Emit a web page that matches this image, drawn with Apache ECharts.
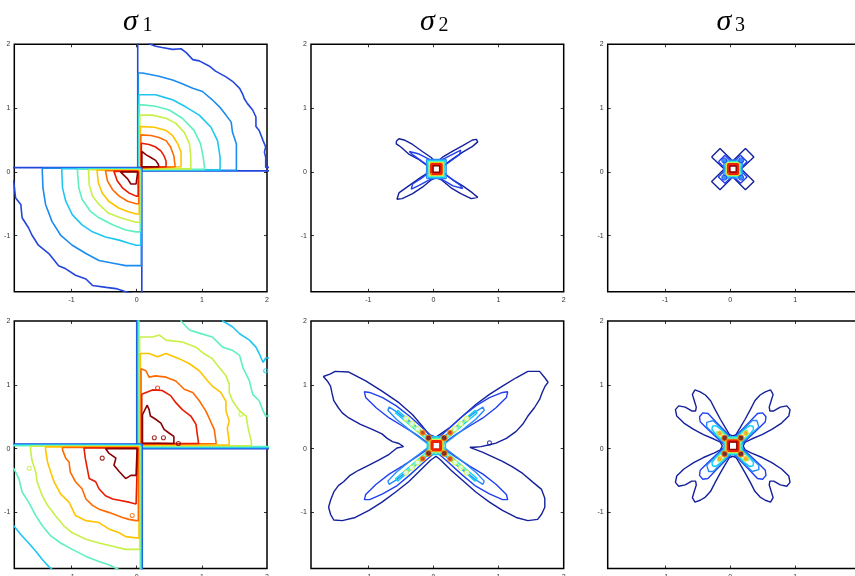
<!DOCTYPE html>
<html><head><meta charset="utf-8">
<script src="https://cdn.jsdelivr.net/npm/echarts@6/dist/echarts.min.js"></script>
<style>html,body{margin:0;padding:0;background:#fff}#c{width:855px;height:576px}</style>
</head><body><div id="c"></div>
<script>
// ---------------- axes / titles ----------------
const axisMin = -1.88, axisMax = 2;
const xTickLabels = [-1, 0, 1, 2];
const yTickLabels = [-1, 0, 1, 2];
const tickMarks = [-1, 0, 1];
const titleSymbol = ['σ', 'σ', 'σ'];
const titleSub = ['1', '2', '3'];

// ---------------- sigma_1 (quadrant contours, low level -> high level) ----------------
// where each level runs along the separating lines (top panel / bottom panel)
const q1EdgeTop  = [0.015, 0.023, 0.031, 0.039, 0.047, 0.055, 0.063, 0.071, 0.078];
const q3EdgeXTop = [0.078, 0.070, 0.062, 0.054, 0.046, 0.038, 0.030, 0.022, 0.015];
const q3EdgeYTop = [0.066, 0.058, 0.050, 0.041, 0.033, 0.025, 0.017, 0.008, 0.000];
const q1EdgeBot  = [0.000, 0.011, 0.022, 0.033, 0.044, 0.055, 0.066, 0.077, 0.088];
const q3EdgeXBot = [0.085, 0.075, 0.065, 0.055, 0.045, 0.035, 0.025, 0.015, 0.005];
const q3EdgeYBot = [0.072, 0.063, 0.054, 0.045, 0.036, 0.027, 0.018, 0.009, 0.000];

const s1TopQ1 = [
 [[0.19,2.3],[0.19,2.01],[0.29,1.97],[0.39,1.95],[0.55,1.92],[0.68,1.93],[0.76,1.87],[0.86,1.76],[0.96,1.74],[1.11,1.66],[1.21,1.58],[1.37,1.49],[1.47,1.42],[1.58,1.31],[1.63,1.21],[1.65,1.15],[1.70,1.07],[1.78,0.97],[1.83,0.86],[1.83,0.71],[1.88,0.65],[1.94,0.49],[1.98,0.39],[1.96,0.31],[1.98,0.23],[1.98,0.07],[2.3,0.07]],
 [[0.09,1.55],[0.34,1.50],[0.55,1.44],[0.68,1.39],[0.86,1.31],[1.01,1.26],[1.16,1.13],[1.27,1.02],[1.37,0.89],[1.45,0.78],[1.47,0.62],[1.53,0.44],[1.53,0.23],[1.53,0.08]],
 [[0.09,1.21],[0.29,1.21],[0.45,1.16],[0.55,1.13],[0.75,1.02],[0.96,0.89],[1.14,0.70],[1.24,0.49],[1.28,0.23],[1.28,0.08]],
 [[0.09,1.05],[0.29,1.03],[0.50,0.97],[0.70,0.84],[0.88,0.65],[0.98,0.44],[1.02,0.23],[1.04,0.08]],
 [[0.09,0.89],[0.24,0.89],[0.45,0.84],[0.60,0.76],[0.73,0.62],[0.81,0.44],[0.83,0.23],[0.83,0.08]],
 [[0.09,0.71],[0.27,0.70],[0.45,0.65],[0.55,0.57],[0.63,0.44],[0.68,0.31],[0.68,0.08]],
 [[0.09,0.58],[0.22,0.57],[0.34,0.54],[0.45,0.49],[0.52,0.39],[0.57,0.25],[0.59,0.08]],
 [[0.09,0.45],[0.19,0.43],[0.29,0.39],[0.37,0.33],[0.42,0.25],[0.45,0.17],[0.45,0.08]],
 [[0.09,0.32],[0.14,0.27],[0.21,0.23],[0.29,0.18],[0.33,0.12],[0.34,0.08]]
];
const s1TopQ3 = [
 [[-2.3,-0.14],[-1.89,-0.14],[-1.86,-0.41],[-1.78,-0.51],[-1.76,-0.72],[-1.66,-0.88],[-1.61,-0.99],[-1.51,-1.15],[-1.35,-1.28],[-1.20,-1.47],[-1.09,-1.52],[-0.94,-1.62],[-0.78,-1.68],[-0.68,-1.78],[-0.47,-1.81],[-0.32,-1.83],[-0.17,-1.88],[-0.01,-1.92],[-0.01,-2.3]],
 [[-1.45,0],[-1.44,-0.25],[-1.40,-0.51],[-1.30,-0.78],[-1.17,-0.99],[-0.99,-1.15],[-0.78,-1.28],[-0.58,-1.39],[-0.32,-1.44],[-0.17,-1.47],[-0.01,-1.47]],
 [[-1.15,0],[-1.14,-0.25],[-1.09,-0.46],[-0.99,-0.67],[-0.84,-0.83],[-0.68,-0.94],[-0.48,-1.02],[-0.27,-1.07],[-0.12,-1.12],[-0.01,-1.15]],
 [[-0.91,0],[-0.89,-0.25],[-0.84,-0.43],[-0.71,-0.62],[-0.58,-0.72],[-0.37,-0.83],[-0.17,-0.91],[-0.01,-0.94]],
 [[-0.74,0],[-0.73,-0.20],[-0.68,-0.38],[-0.58,-0.51],[-0.43,-0.65],[-0.25,-0.72],[-0.01,-0.79]],
 [[-0.61,0],[-0.59,-0.17],[-0.53,-0.33],[-0.43,-0.46],[-0.27,-0.57],[-0.14,-0.62],[-0.01,-0.66]],
 [[-0.48,0],[-0.45,-0.14],[-0.37,-0.28],[-0.27,-0.38],[-0.14,-0.46],[-0.01,-0.50]],
 [[-0.35,0],[-0.30,-0.14],[-0.22,-0.25],[-0.12,-0.33],[-0.01,-0.38]],
 [[-0.25,-0.01],[-0.14,-0.11],[-0.09,-0.19],[-0.01,-0.19]]
];
const s1BotQ1 = [
 [[0.1,2.3],[2.3,2.3],[2.3,0.1]],
 [[0.1,2.3],[2.3,2.3],[2.3,0.1]],
 [[0.1,2.3],[1.32,2.3],[1.32,2.0],[1.47,1.91],[1.58,1.80],[1.73,1.70],[1.83,1.59],[1.88,1.49],[1.94,1.35],[1.98,1.42],[2.3,1.42],[2.3,0.1]],
 [[0.1,2.3],[0.68,2.3],[0.68,2.0],[0.81,1.86],[0.96,1.81],[1.16,1.75],[1.32,1.59],[1.47,1.54],[1.58,1.46],[1.63,1.27],[1.73,1.06],[1.78,0.85],[1.88,0.75],[1.94,0.59],[1.98,0.51],[2.3,0.51],[2.3,0.1]],
 [[0.09,1.75],[0.24,1.75],[0.35,1.78],[0.45,1.70],[0.70,1.67],[0.91,1.59],[1.03,1.49],[1.16,1.41],[1.26,1.28],[1.37,1.14],[1.42,1.01],[1.42,0.88],[1.47,0.75],[1.58,0.59],[1.68,0.51],[1.71,0.32],[1.76,0.11]],
 [[0.09,1.49],[0.19,1.49],[0.32,1.44],[0.45,1.49],[0.65,1.41],[0.81,1.33],[0.96,1.22],[1.09,1.06],[1.16,0.98],[1.29,0.88],[1.37,0.74],[1.37,0.59],[1.42,0.43],[1.39,0.32],[1.42,0.11]],
 [[0.09,1.25],[0.14,1.22],[0.19,1.12],[0.29,1.14],[0.45,1.12],[0.60,1.06],[0.73,0.93],[0.86,0.88],[0.96,0.75],[1.06,0.59],[1.11,0.48],[1.19,0.30],[1.22,0.08]],
 [[0.09,0.85],[0.24,0.92],[0.39,0.91],[0.52,0.83],[0.60,0.72],[0.70,0.61],[0.83,0.51],[0.91,0.38],[0.93,0.22],[0.95,0.08]],
 [[0.10,0.53],[0.16,0.68],[0.19,0.61],[0.21,0.51],[0.29,0.46],[0.37,0.40],[0.42,0.30],[0.50,0.24],[0.57,0.19],[0.57,0.08]]
];
const s1BotQ3 = [
 [[-2.3,-0.1],[-2.3,-2.3],[-0.1,-2.3]],
 [[-2.3,-0.1],[-2.3,-2.3],[-0.1,-2.3]],
 [[-2.3,-0.1],[-2.3,-1.21],[-1.89,-1.21],[-1.76,-1.37],[-1.66,-1.48],[-1.55,-1.61],[-1.45,-1.74],[-1.35,-1.85],[-1.27,-1.92],[-1.27,-2.3],[-0.1,-2.3]],
 [[-2.3,-0.1],[-2.3,-0.31],[-1.89,-0.31],[-1.81,-0.47],[-1.76,-0.68],[-1.66,-0.84],[-1.55,-1.05],[-1.45,-1.21],[-1.32,-1.37],[-1.17,-1.48],[-0.99,-1.58],[-0.78,-1.69],[-0.58,-1.77],[-0.43,-1.82],[-0.27,-1.90],[-0.17,-1.92],[-0.17,-2.3],[-0.1,-2.3]],
 [[-1.63,-0.02],[-1.61,-0.18],[-1.55,-0.37],[-1.53,-0.52],[-1.45,-0.74],[-1.37,-0.89],[-1.25,-1.05],[-1.12,-1.21],[-0.99,-1.32],[-0.78,-1.42],[-0.58,-1.48],[-0.37,-1.53],[-0.17,-1.58],[-0.01,-1.58]],
 [[-1.40,-0.02],[-1.37,-0.21],[-1.32,-0.37],[-1.27,-0.52],[-1.17,-0.71],[-1.04,-0.84],[-0.94,-1.05],[-0.78,-1.13],[-0.58,-1.16],[-0.43,-1.26],[-0.27,-1.32],[-0.17,-1.38],[-0.01,-1.40]],
 [[-1.14,-0.02],[-1.09,-0.15],[-1.04,-0.21],[-1.02,-0.37],[-0.94,-0.52],[-0.84,-0.63],[-0.78,-0.79],[-0.68,-0.89],[-0.58,-0.95],[-0.43,-1.00],[-0.22,-1.08],[-0.12,-1.11],[-0.01,-1.13]],
 [[-0.81,0],[-0.79,-0.15],[-0.76,-0.31],[-0.73,-0.47],[-0.63,-0.52],[-0.58,-0.63],[-0.48,-0.74],[-0.37,-0.79],[-0.27,-0.81],[-0.12,-0.84],[-0.01,-0.87]],
 [[-0.48,0.0],[-0.43,-0.07],[-0.32,-0.15],[-0.35,-0.26],[-0.27,-0.36],[-0.17,-0.47],[-0.09,-0.42],[-0.01,-0.42]]
];
const s1BotSpecks = [[-0.53,-0.15,8],[0.32,0.95,7],[-0.07,-1.05,6],[-1.65,-0.31,4],[1.60,0.54,4],[0.27,0.17,8],[0.41,0.17,8],[0.64,0.08,8],[1.98,1.22,2]];

// ---------------- sigma_2 / sigma_3 ----------------
const coreCenter = [0.045, 0.045];

const s2TopOuter = [[-0.57,0.48],[-0.53,0.52],[-0.45,0.50],[-0.32,0.43],[-0.17,0.32],[-0.04,0.23],[0.02,0.17],[0.07,0.17],[0.14,0.23],[0.29,0.32],[0.45,0.41],[0.60,0.50],[0.66,0.51],[0.68,0.47],[0.60,0.40],[0.45,0.31],[0.29,0.20],[0.17,0.11],[0.15,0.04],[0.17,-0.03],[0.29,-0.12],[0.45,-0.22],[0.60,-0.33],[0.68,-0.40],[0.65,-0.43],[0.58,-0.42],[0.42,-0.34],[0.27,-0.25],[0.13,-0.13],[0.07,-0.10],[0.02,-0.10],[-0.04,-0.13],[-0.17,-0.24],[-0.32,-0.34],[-0.48,-0.42],[-0.56,-0.43],[-0.58,-0.40],[-0.53,-0.33],[-0.38,-0.22],[-0.20,-0.09],[-0.11,-0.03],[-0.09,0.04],[-0.11,0.11],[-0.22,0.19],[-0.38,0.28],[-0.50,0.39],[-0.57,0.44],[-0.57,0.48]];
const s2TopInner = [[0.04,0.14],[0.15,0.20],[0.30,0.28],[0.42,0.34],[0.45,0.32],[0.40,0.27],[0.25,0.16],[0.14,0.08],[0.12,0.04],[0.14,0.0],[0.25,-0.09],[0.40,-0.20],[0.45,-0.26],[0.42,-0.28],[0.30,-0.22],[0.15,-0.13],[0.04,-0.07],[-0.07,-0.13],[-0.22,-0.21],[-0.34,-0.27],[-0.37,-0.24],[-0.32,-0.19],[-0.17,-0.09],[-0.06,0.0],[-0.04,0.04],[-0.06,0.08],[-0.17,0.16],[-0.32,0.27],[-0.37,0.32],[-0.34,0.34],[-0.22,0.28],[-0.07,0.20],[0.04,0.14]];
const s2TopCore = [0.15, 0.13, 0.115, 0.10, 0.09, 0.072, 0.05];

const s3TopOuter = [[-0.285,0.235],[-0.155,0.365],[0.04,0.17],[0.235,0.365],[0.365,0.235],[0.17,0.045],[0.365,-0.15],[0.235,-0.28],[0.04,-0.08],[-0.155,-0.28],[-0.285,-0.15],[-0.09,0.045],[-0.285,0.235]];
const s3TopInner = [[-0.18,0.16],[-0.08,0.26],[0.04,0.14],[0.16,0.26],[0.26,0.16],[0.14,0.04],[0.26,-0.08],[0.16,-0.18],[0.04,-0.06],[-0.08,-0.18],[-0.18,-0.08],[-0.06,0.04],[-0.18,0.16]];
const s3TopBlobs = [[-0.09,0.18],[0.17,0.18],[-0.09,-0.09],[0.17,-0.09]];
const s3TopCore = [0.14, 0.12, 0.105, 0.095, 0.085, 0.07, 0.048];

const s2BotOuter = [[0.04,0.18],[0.24,0.32],[0.45,0.51],[0.65,0.69],[0.86,0.85],[1.06,0.98],[1.27,1.11],[1.45,1.21],[1.63,1.21],[1.71,1.11],[1.76,1.04],[1.71,0.97],[1.67,0.88],[1.63,0.77],[1.55,0.64],[1.45,0.51],[1.37,0.38],[1.27,0.27],[1.12,0.16],[0.96,0.085],[0.86,0.06],[0.73,0.03],[0.63,0.02],[0.56,0.02],[0.55,0.0],[0.63,-0.01],[0.76,-0.06],[0.91,-0.13],[1.06,-0.20],[1.22,-0.29],[1.37,-0.39],[1.53,-0.53],[1.66,-0.64],[1.71,-0.78],[1.71,-0.92],[1.66,-1.03],[1.60,-1.11],[1.45,-1.13],[1.27,-1.08],[1.06,-0.97],[0.86,-0.84],[0.65,-0.68],[0.45,-0.50],[0.27,-0.34],[0.11,-0.18],[0.04,-0.12],[-0.04,-0.18],[-0.17,-0.31],[-0.38,-0.52],[-0.58,-0.68],[-0.79,-0.84],[-0.99,-0.97],[-1.20,-1.08],[-1.40,-1.13],[-1.53,-1.12],[-1.58,-1.03],[-1.61,-0.92],[-1.58,-0.81],[-1.53,-0.68],[-1.46,-0.58],[-1.38,-0.52],[-1.28,-0.42],[-1.15,-0.34],[-0.99,-0.26],[-0.84,-0.18],[-0.68,-0.09],[-0.56,0.01],[-0.46,0.03],[-0.45,0.06],[-0.53,0.08],[-0.63,0.11],[-0.71,0.16],[-0.79,0.23],[-0.94,0.30],[-1.12,0.38],[-1.30,0.48],[-1.40,0.56],[-1.46,0.64],[-1.53,0.75],[-1.56,0.88],[-1.58,0.98],[-1.63,1.06],[-1.69,1.13],[-1.58,1.17],[-1.51,1.21],[-1.30,1.20],[-1.04,1.06],[-0.79,0.90],[-0.53,0.72],[-0.32,0.53],[-0.17,0.35],[-0.07,0.22],[0.04,0.18]];
const s2BotMid = [[0.04,0.13],[0.19,0.27],[0.45,0.51],[0.65,0.67],[0.86,0.80],[1.06,0.88],[1.14,0.89],[1.12,0.80],[0.96,0.64],[0.76,0.48],[0.55,0.35],[0.34,0.22],[0.17,0.09],[0.14,0.04],[0.17,-0.01],[0.34,-0.13],[0.55,-0.27],[0.76,-0.40],[0.96,-0.56],[1.12,-0.72],[1.14,-0.80],[1.06,-0.80],[0.86,-0.71],[0.65,-0.59],[0.45,-0.42],[0.19,-0.18],[0.04,-0.05],[-0.11,-0.18],[-0.37,-0.42],[-0.57,-0.59],[-0.78,-0.71],[-0.98,-0.80],[-1.06,-0.80],[-1.04,-0.72],[-0.88,-0.56],[-0.68,-0.40],[-0.47,-0.27],[-0.26,-0.13],[-0.09,-0.01],[-0.06,0.04],[-0.09,0.09],[-0.26,0.22],[-0.47,0.35],[-0.68,0.48],[-0.88,0.64],[-1.04,0.80],[-1.06,0.89],[-0.98,0.88],[-0.78,0.80],[-0.57,0.67],[-0.37,0.51],[-0.11,0.27],[0.04,0.13]];
const s2BotLobes = [[0.04,0.11],[0.20,0.22],[0.45,0.42],[0.65,0.58],[0.76,0.65],[0.78,0.60],[0.65,0.46],[0.42,0.27],[0.16,0.07],[0.12,0.045],[0.16,0.02],[0.42,-0.18],[0.65,-0.37],[0.78,-0.51],[0.76,-0.56],[0.65,-0.49],[0.45,-0.33],[0.20,-0.13],[0.04,-0.02],[-0.12,-0.13],[-0.37,-0.33],[-0.57,-0.49],[-0.68,-0.56],[-0.70,-0.51],[-0.57,-0.37],[-0.34,-0.18],[-0.08,0.02],[-0.04,0.045],[-0.08,0.07],[-0.34,0.27],[-0.57,0.46],[-0.70,0.60],[-0.68,0.65],[-0.57,0.58],[-0.37,0.42],[-0.12,0.22],[0.04,0.11]];
const s2BotCyan = [[0.045,0.10],[0.20,0.21],[0.45,0.43],[0.64,0.60],[0.67,0.56],[0.45,0.37],[0.20,0.15],[0.11,0.045],[0.20,-0.06],[0.45,-0.28],[0.67,-0.47],[0.64,-0.51],[0.45,-0.34],[0.20,-0.12],[0.045,-0.01],[-0.11,-0.12],[-0.36,-0.34],[-0.55,-0.51],[-0.58,-0.47],[-0.36,-0.28],[-0.11,-0.06],[-0.02,0.045],[-0.11,0.15],[-0.36,0.37],[-0.58,0.56],[-0.55,0.60],[-0.36,0.43],[-0.11,0.21],[0.045,0.10]];
const s2BotAqua = [[0.045,0.09],[0.20,0.19],[0.38,0.35],[0.52,0.48],[0.54,0.45],[0.38,0.31],[0.20,0.15],[0.10,0.045],[0.20,-0.06],[0.38,-0.22],[0.54,-0.36],[0.52,-0.39],[0.38,-0.26],[0.20,-0.10],[0.045,0.0],[-0.11,-0.10],[-0.29,-0.26],[-0.43,-0.39],[-0.45,-0.36],[-0.29,-0.22],[-0.11,-0.06],[-0.01,0.045],[-0.11,0.15],[-0.29,0.31],[-0.45,0.45],[-0.43,0.48],[-0.29,0.35],[-0.11,0.19],[0.045,0.09]];
const s2BotYellow = [[0.33,0.31],[0.42,0.39],[0.51,0.47],[-0.24,0.31],[-0.33,0.39],[-0.42,0.47],[0.33,-0.22],[0.42,-0.30],[0.51,-0.38],[-0.24,-0.22],[-0.33,-0.30],[-0.42,-0.38]];
const s2BotRed = [[-0.075,0.165],[0.165,0.165],[-0.075,-0.075],[0.165,-0.075]];
const s2BotOrange = [[-0.165,0.25],[0.255,0.25],[-0.165,-0.16],[0.255,-0.16]];
const s2BotSpeck = [[0.86,0.09]];
const s2BotCore = [0.14, 0.115, 0.095, 0.08, 0.065];

const s3BotOuter = [[0.04,0.20],[0.09,0.22],[0.15,0.32],[0.23,0.46],[0.31,0.61],[0.38,0.75],[0.46,0.84],[0.54,0.89],[0.62,0.92],[0.66,0.85],[0.63,0.75],[0.60,0.65],[0.61,0.59],[0.67,0.59],[0.77,0.65],[0.87,0.67],[0.92,0.61],[0.90,0.51],[0.79,0.40],[0.64,0.30],[0.49,0.22],[0.33,0.15],[0.23,0.10],[0.20,0.04],[0.23,-0.02],[0.33,-0.07],[0.49,-0.14],[0.64,-0.22],[0.79,-0.32],[0.90,-0.43],[0.92,-0.53],[0.87,-0.59],[0.77,-0.57],[0.67,-0.51],[0.61,-0.51],[0.60,-0.57],[0.63,-0.67],[0.66,-0.77],[0.62,-0.84],[0.54,-0.81],[0.46,-0.76],[0.38,-0.67],[0.31,-0.53],[0.23,-0.38],[0.15,-0.24],[0.09,-0.14],[0.04,-0.12],[-0.01,-0.14],[-0.07,-0.24],[-0.15,-0.38],[-0.23,-0.53],[-0.30,-0.67],[-0.38,-0.76],[-0.46,-0.81],[-0.54,-0.84],[-0.58,-0.77],[-0.55,-0.67],[-0.52,-0.57],[-0.53,-0.51],[-0.59,-0.51],[-0.69,-0.57],[-0.79,-0.59],[-0.84,-0.53],[-0.82,-0.43],[-0.71,-0.32],[-0.56,-0.22],[-0.41,-0.14],[-0.25,-0.07],[-0.15,-0.02],[-0.12,0.04],[-0.15,0.10],[-0.25,0.15],[-0.41,0.22],[-0.56,0.30],[-0.71,0.40],[-0.82,0.51],[-0.84,0.61],[-0.79,0.67],[-0.69,0.65],[-0.59,0.59],[-0.53,0.59],[-0.52,0.65],[-0.55,0.75],[-0.58,0.85],[-0.54,0.92],[-0.46,0.89],[-0.38,0.84],[-0.30,0.75],[-0.23,0.61],[-0.15,0.46],[-0.07,0.32],[-0.01,0.22],[0.04,0.20]];
const s3BotMid = [[0.04,0.15],[0.30,0.42],[0.42,0.55],[0.50,0.56],[0.55,0.50],[0.54,0.42],[0.42,0.30],[0.15,0.04],[0.42,-0.22],[0.54,-0.34],[0.55,-0.42],[0.50,-0.48],[0.42,-0.47],[0.30,-0.34],[0.04,-0.07],[-0.22,-0.34],[-0.34,-0.47],[-0.42,-0.48],[-0.47,-0.42],[-0.46,-0.34],[-0.34,-0.22],[-0.07,0.04],[-0.34,0.30],[-0.46,0.42],[-0.47,0.50],[-0.42,0.56],[-0.34,0.55],[-0.22,0.42],[0.04,0.15]];
const s3BotLobes = [[0.04,0.13],[0.25,0.35],[0.34,0.44],[0.41,0.44],[0.44,0.41],[0.44,0.34],[0.35,0.25],[0.13,0.04],[0.35,-0.17],[0.44,-0.26],[0.44,-0.33],[0.41,-0.36],[0.34,-0.36],[0.25,-0.27],[0.04,-0.05],[-0.17,-0.27],[-0.26,-0.36],[-0.33,-0.36],[-0.36,-0.33],[-0.36,-0.26],[-0.27,-0.17],[-0.05,0.04],[-0.27,0.25],[-0.36,0.34],[-0.36,0.41],[-0.33,0.44],[-0.26,0.44],[-0.17,0.35],[0.04,0.13]];
const s3BotCyan = [[0.04,0.11],[0.22,0.30],[0.30,0.36],[0.35,0.35],[0.36,0.30],[0.30,0.22],[0.11,0.04],[0.30,-0.14],[0.36,-0.22],[0.35,-0.27],[0.30,-0.28],[0.22,-0.22],[0.04,-0.03],[-0.14,-0.22],[-0.22,-0.28],[-0.27,-0.27],[-0.28,-0.22],[-0.22,-0.14],[-0.03,0.04],[-0.22,0.22],[-0.28,0.30],[-0.27,0.35],[-0.22,0.36],[-0.14,0.30],[0.04,0.11]];
const s3BotAqua = [[0.04,0.10],[0.20,0.26],[0.26,0.29],[0.29,0.26],[0.26,0.20],[0.10,0.04],[0.26,-0.12],[0.29,-0.18],[0.26,-0.21],[0.20,-0.18],[0.04,-0.02],[-0.12,-0.18],[-0.18,-0.21],[-0.21,-0.18],[-0.18,-0.12],[-0.02,0.04],[-0.18,0.20],[-0.21,0.26],[-0.18,0.29],[-0.12,0.26],[0.04,0.10]];
const s3BotRed = [[-0.085,0.165],[0.165,0.165],[-0.085,-0.085],[0.165,-0.085]];
const s3BotOrange = [[-0.16,0.24],[0.24,0.24],[-0.16,-0.16],[0.24,-0.16]];
const s3BotCore = [0.14, 0.12, 0.10, 0.09, 0.075, 0.058];

// ---------------- styles ----------------
const pal1 = ['#2446dc','#1a8cf0','#20c6f2','#5ef0c0','#c8f048','#ffc400','#ff6a00','#e81c00','#8a0000'];
const pal2 = ['#14209c','#2040f0','#2a8af8','#10cdf5','#60f5b0','#d8f040','#ff9a00','#ee2200','#8c0000'];
const LW1 = 1.6, LW = 1.4;

const gridLeft = [14.3, 311, 607.7], gridTop = [44.3, 321], gridW = 252.7, gridH = 247.5;

const series = [];
function line(p, pts, color, w) {
  series.push({type:'line', xAxisIndex:2*p, yAxisIndex:2*p, data:pts, symbol:'none', showSymbol:false,
    silent:true, animation:false, clip:true, lineStyle:{color:color, width:w||LW}, z:3});
}
function dots(p, pts, border, fill, size, bw) {
  series.push({type:'scatter', xAxisIndex:2*p, yAxisIndex:2*p, data:pts, symbol:'circle', symbolSize:size,
    silent:true, animation:false, clip:true, itemStyle:{color:fill, borderColor:border, borderWidth:bw||1.1}, z:4});
}
function q1(p, arcs, pal, edge) {
  arcs.forEach(function (arc, k) {
    const e = edge[k], f = arc[0], l = arc[arc.length-1];
    line(p, [[e,e],[e,f[1]]].concat(arc, [[l[0],e],[e,e]]), pal[k], LW1);
  });
}
function q3(p, arcs, pal, edgeX, edgeY) {
  arcs.forEach(function (arc, k) {
    const ex = edgeX[k], ey = edgeY[k], f = arc[0], l = arc[arc.length-1];
    line(p, [[ex,ey],[f[0],ey]].concat(arc, [[ex,l[1]],[ex,ey]]), pal[k], LW1);
  });
}
function core(p, halves, levels, pal) {
  const cx = coreCenter[0], cy = coreCenter[1];
  halves.forEach(function (h, i) {
    const lv = levels[i];
    line(p, [[cx-h,cy-h],[cx+h,cy-h],[cx+h,cy+h],[cx-h,cy+h],[cx-h,cy-h]], pal[lv], lv === 7 ? 3 : LW);
  });
}

q1(0, s1TopQ1, pal1, q1EdgeTop); q3(0, s1TopQ3, pal1, q3EdgeXTop, q3EdgeYTop);
q1(3, s1BotQ1, pal1, q1EdgeBot); q3(3, s1BotQ3, pal1, q3EdgeXBot, q3EdgeYBot);
[2,4,6,7,8].forEach(function (lv) {
  const pts = s1BotSpecks.filter(function (s) { return s[2] === lv; }).map(function (s) { return [s[0], s[1]]; });
  if (pts.length) dots(3, pts, pal1[lv], 'rgba(255,255,255,0)', 4);
});
line(1, s2TopOuter, pal2[0]);
line(1, s2TopInner, pal2[1]);
core(1, s2TopCore, [2,3,4,5,6,7,8], pal2);
line(2, s3TopOuter, pal2[0]);
line(2, s3TopInner, pal2[1]);
dots(2, s3TopBlobs, pal2[1], pal2[2], 5);
core(2, s3TopCore, [2,3,4,5,6,7,8], pal2);
line(4, s2BotOuter, pal2[0]);
line(4, s2BotMid, pal2[1]);
line(4, s2BotLobes, pal2[2]);
line(4, s2BotCyan, pal2[3]);
line(4, s2BotAqua, pal2[4]);
dots(4, s2BotSpeck, pal2[0], 'rgba(255,255,255,0)', 4);
dots(4, s2BotYellow, pal2[5], '#ffffff', 5);
core(4, s2BotCore, [3,4,5,6,7], pal2);
dots(4, s2BotOrange, pal2[6], pal2[7], 5);
dots(4, s2BotRed, pal2[6], pal2[8], 6);
line(5, s3BotOuter, pal2[0]);
line(5, s3BotMid, pal2[1]);
line(5, s3BotLobes, pal2[2]);
line(5, s3BotCyan, pal2[3]);
line(5, s3BotAqua, pal2[4]);
core(5, s3BotCore, [3,4,5,6,7,8], pal2);
dots(5, s3BotOrange, pal2[5], pal2[6], 5);
dots(5, s3BotRed, pal2[6], pal2[8], 6);

// ---------------- layout ----------------
const grids = [], xAxes = [], yAxes = [];
const tickStyle = {show:true, inside:true, length:3, customValues:tickMarks, lineStyle:{color:'#000', width:0.8}};
const noLine = {show:false, onZero:false};
for (let p = 0; p < 6; p++) {
  const r = p < 3 ? 0 : 1, c = p % 3;
  grids.push({left: gridLeft[c], top: gridTop[r], width: gridW, height: gridH, outerBoundsMode: 'none',
    containLabel: false, show: true, borderColor: '#000', borderWidth: 1.5, backgroundColor: '#fff'});
  const lab = {fontSize: 7, color: '#333', fontFamily: 'Liberation Sans'};
  xAxes.push({gridIndex:p, type:'value', min:axisMin, max:axisMax, position:'bottom',
    axisLine:noLine, splitLine:{show:false}, axisTick:tickStyle,
    axisLabel:Object.assign({show:true, margin:5, customValues:xTickLabels}, lab)});
  xAxes.push({gridIndex:p, type:'value', min:axisMin, max:axisMax, position:'top',
    axisLine:noLine, splitLine:{show:false}, axisLabel:{show:false}, axisTick:tickStyle});
  yAxes.push({gridIndex:p, type:'value', min:axisMin, max:axisMax, position:'left',
    axisLine:noLine, splitLine:{show:false}, axisTick:tickStyle,
    axisLabel:Object.assign({show:true, margin:4, customValues:yTickLabels}, lab)});
  yAxes.push({gridIndex:p, type:'value', min:axisMin, max:axisMax, position:'right',
    axisLine:noLine, splitLine:{show:false}, axisLabel:{show:false}, axisTick:tickStyle});
}

const titleX = [123, 420, 716.5], subX = [142.5, 438.5, 735];
const graphics = [];
for (let i = 0; i < 3; i++) {
  graphics.push({type:'text', x:titleX[i], y:22, silent:true,
    style:{text:titleSymbol[i], font:'italic 30px "Liberation Serif"', fill:'#000', align:'left', verticalAlign:'middle'}});
  graphics.push({type:'text', x:subX[i], y:26, silent:true,
    style:{text:titleSub[i], font:'20px "Liberation Serif"', fill:'#000', align:'left', verticalAlign:'middle'}});
}

const chart = echarts.init(document.getElementById('c'), null, {renderer:'canvas'});
chart.setOption({
  animation: false,
  backgroundColor: '#fff',
  grid: grids, xAxis: xAxes, yAxis: yAxes,
  graphic: graphics,
  series: series
});
</script></body></html>
